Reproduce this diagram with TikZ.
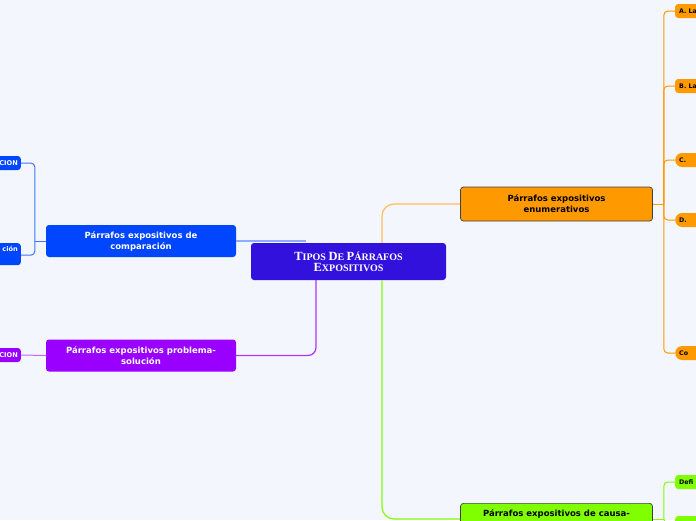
\documentclass[tikz,border=0pt]{standalone}
\usepackage{fontspec}
\setmainfont{DejaVu Sans}
\newfontfamily\titlefont{Liberation Serif}
\usetikzlibrary{positioning}
\definecolor{bgblue}{RGB}{243,246,253}
\definecolor{rootblue}{RGB}{51,17,221}
\definecolor{enumorange}{RGB}{255,153,0}
\definecolor{compblue}{RGB}{0,70,255}
\definecolor{probpurple}{RGB}{153,0,255}
\definecolor{causelime}{RGB}{128,255,0}
\newcommand{\capsc}[2]{{\fontsize{12.5}{11}\selectfont #1}{\fontsize{10}{11}\selectfont #2}}

\begin{document}
\begin{tikzpicture}[
    x=1pt, y=-1pt,
    topic/.style={rectangle, rounded corners=3pt, inner sep=0pt, align=center, font=\bfseries\fontsize{8.5}{11}\selectfont},
    rootbox/.style={topic, fill=rootblue, text=white, minimum width=195pt, minimum height=37pt, font=\titlefont\bfseries\fontsize{10}{11}\selectfont},
    rleaf/.style={rectangle, rounded corners=3pt, anchor=west, minimum height=14pt, text width=40pt, align=left, inner xsep=4pt, inner ysep=0pt, font=\bfseries\fontsize{6.3}{8}\selectfont},
    lleaf/.style={rectangle, rounded corners=3pt, anchor=east, minimum height=14pt, text width=40pt, align=right, inner xsep=3pt, inner ysep=0pt, font=\bfseries\fontsize{6.6}{8}\selectfont},
    pill/.style={rounded corners=7pt},
    link/.style={line width=1.2pt},
    twig/.style={line width=1pt, rounded corners=4pt},
]
\fill[bgblue] (0,0) rectangle (696,520);
\useasboundingbox (0,0) rectangle (696,520);
\clip (0,0) rectangle (696,520);

% main topics
\node[rootbox] (root) at (348.5,261.5) {\capsc{T}{IPOS} \capsc{D}{E} \capsc{P}{ÁRRAFOS}\\\capsc{E}{XPOSITIVOS}};
\node[topic, fill=enumorange, draw=black!75, line width=0.7pt, minimum width=192pt, minimum height=34pt] (enum) at (556.5,204) {Párrafos expositivos\\enumerativos};
\node[topic, fill=compblue, text=white, minimum width=190pt, minimum height=32pt] (comp) at (141,241) {Párrafos expositivos de\\comparación};
\node[topic, fill=probpurple, text=white, minimum width=190pt, minimum height=32pt] (prob) at (141,355.5) {Párrafos expositivos problema-\\solución};
\node[topic, fill=causelime, draw=black!75, line width=0.7pt, minimum width=192pt, anchor=north, text height=8pt, text depth=20pt, inner ysep=5pt] (cause) at (556.5,503) {Párrafos expositivos de causa-};

% leaves
\node[rleaf, fill=enumorange] (ea) at (675,11) {A. La};
\node[rleaf, fill=enumorange] (eb) at (675,86) {B. La};
\node[rleaf, pill, fill=enumorange] (ec) at (675,160) {C.};
\node[rleaf, pill, fill=enumorange] (ed) at (675,220) {D.};
\node[rleaf, pill, fill=enumorange] (ee) at (675,353) {Co};
\node[rleaf, fill=causelime] (ca) at (675,482) {Defi};
\node[rleaf, fill=causelime] (cb) at (675,523) {};
\node[lleaf, fill=compblue, text=white] (ka) at (21,163) {CION};
\node[lleaf, fill=compblue, text=white, anchor=north east, text height=6pt, text depth=12pt, inner ysep=2pt] (kb) at (21,243) {ción};
\node[lleaf, fill=probpurple, text=white] (pa) at (21,355) {CION};

% joints
\coordinate (ej) at ([xshift=11pt]enum.east);
\coordinate (cj) at ([xshift=11pt,yshift=-16pt]cause.north east);
\coordinate (kj) at ([xshift=-11pt]comp.west);
\coordinate (rj) at ([xshift=-43pt]root.north);

% connectors
\draw[link, enumorange!65, rounded corners=12pt] ([xshift=33.5pt]root.north) |- (enum.west);
\draw[link, causelime, rounded corners=12pt] ([xshift=33.5pt]root.south) |- (cause.west |- cj);
\draw[link, probpurple!80, rounded corners=8pt] ([xshift=-32.5pt]root.south) |- (prob.east);
\draw[link, compblue!45] (comp.east) -- (comp.east -| rj);
\draw[twig, enumorange] (enum.east) -- (ej);
\foreach \leaf in {ea,eb,ec,ed,ee}
  \draw[twig, enumorange] (ej) |- (\leaf.west);
\draw[twig, causelime] (cause.east |- cj) -- (cj);
\foreach \leaf in {ca,cb}
  \draw[twig, causelime] (cj) |- (\leaf.west);
\draw[twig, compblue!75] (comp.west) -- (kj);
\draw[twig, compblue!75] (kj) |- (ka.east);
\draw[twig, compblue!75] (kj) |- ([yshift=-1pt]kb.east);
\draw[twig, probpurple!60] (pa.east) -- (prob.west);
\end{tikzpicture}
\end{document}
